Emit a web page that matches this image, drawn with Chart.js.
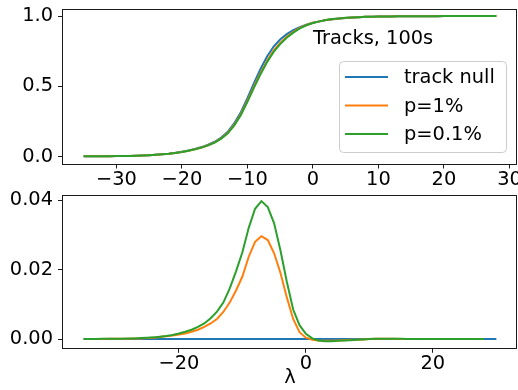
<!DOCTYPE html>
<html>
<head>
<meta charset="utf-8">
<script src="https://cdn.jsdelivr.net/npm/chart.js@4.4.1/dist/chart.umd.min.js"></script>
<style>
  html, body { margin: 0; padding: 0; background: #fff; }
  #wrap { position: relative; width: 518px; height: 390px; overflow: hidden; }
  .panel { position: absolute; left: 0; }
  #topPanel { top: 0; }
  #bottomPanel { top: 185px; }
</style>
</head>
<body>
<div id="wrap">
  <div class="panel" id="topPanel"><canvas id="cdfChart" width="518" height="200"></canvas></div>
  <div class="panel" id="bottomPanel"><canvas id="diffChart" width="518" height="205"></canvas></div>
</div>
<script>
// lambda grid shared by all curves
const lambdas = [
  -35, -34, -33, -32, -31, -30, -29, -28, -27, -26,
  -25, -24, -23, -22, -21, -20, -19, -18, -17, -16,
  -15, -14, -13, -12, -11, -10, -9, -8, -7, -6,
  -5, -4, -3, -2, -1, 0, 1, 2, 3, 4,
  5, 6, 7, 8, 9, 10, 11, 12, 13, 14,
  15, 16, 17, 18, 19, 20, 21, 22, 23, 24,
  25, 26, 27, 28
];

// cumulative efficiency, top panel
const cdfNull = [
  0.001, 0.001, 0.001, 0.002, 0.002, 0.003, 0.003, 0.004, 0.005, 0.007,
  0.009, 0.013, 0.016, 0.020, 0.026, 0.034, 0.043, 0.054, 0.067, 0.084,
  0.105, 0.135, 0.176, 0.237, 0.315, 0.415, 0.522, 0.623, 0.712, 0.783,
  0.833, 0.871, 0.899, 0.921, 0.938, 0.952, 0.962, 0.971, 0.977, 0.982,
  0.986, 0.990, 0.992, 0.994, 0.995, 0.996, 0.997, 0.997, 0.998, 0.998,
  0.998, 0.999, 0.999, 0.999, 0.999, 1.000, 1.000, 1.000, 1.000, 1.000,
  1.000, 1.000, 1.000, 1.000
];
const cdfP1 = [
  0.001, 0.001, 0.001, 0.002, 0.002, 0.003, 0.003, 0.004, 0.005, 0.007,
  0.009, 0.012, 0.015, 0.019, 0.025, 0.032, 0.041, 0.052, 0.064, 0.080,
  0.100, 0.129, 0.168, 0.226, 0.301, 0.397, 0.498, 0.595, 0.682, 0.755,
  0.808, 0.852, 0.887, 0.915, 0.936, 0.952, 0.962, 0.971, 0.977, 0.982,
  0.986, 0.990, 0.992, 0.994, 0.995, 0.996, 0.997, 0.997, 0.998, 0.998,
  0.998, 0.999, 0.999, 0.999, 0.999, 1.000, 1.000, 1.000, 1.000, 1.000,
  1.000, 1.000, 1.000, 1.000
];
const cdfP01 = [
  0.001, 0.001, 0.001, 0.002, 0.002, 0.003, 0.003, 0.004, 0.005, 0.007,
  0.009, 0.012, 0.015, 0.019, 0.025, 0.032, 0.041, 0.051, 0.063, 0.079,
  0.099, 0.127, 0.165, 0.222, 0.295, 0.390, 0.490, 0.585, 0.672, 0.745,
  0.800, 0.845, 0.882, 0.912, 0.934, 0.950, 0.962, 0.971, 0.978, 0.983,
  0.987, 0.990, 0.992, 0.994, 0.995, 0.996, 0.997, 0.997, 0.998, 0.998,
  0.998, 0.999, 0.999, 0.999, 0.999, 1.000, 1.000, 1.000, 1.000, 1.000,
  1.000, 1.000, 1.000, 1.000
];

// difference to the null curve, bottom panel
const diffNullLambdas = [-35, 30];
const diffNull = [0, 0];
const diffP1 = [
  0.0000, 0.0000, 0.0000, 0.0000, 0.0001, 0.0001, 0.0001, 0.0001, 0.0002, 0.0002,
  0.0003, 0.0004, 0.0006, 0.0008, 0.0010, 0.0013, 0.0016, 0.0021, 0.0027, 0.0035,
  0.0045, 0.0058, 0.0078, 0.0105, 0.0140, 0.0180, 0.0237, 0.0280, 0.0296, 0.0285,
  0.0247, 0.0190, 0.0120, 0.0058, 0.0020, 0.0004, -0.0002, -0.0004, -0.0005, -0.0005,
  -0.0004, -0.0003, -0.0002, -0.0002, -0.0001, 0.0000, 0.0001, 0.0001, 0.0001, 0.0001,
  0.0000, 0.0000, 0.0000, 0.0000, 0.0000, 0.0000, 0.0000, 0.0000, 0.0000, 0.0000,
  0.0000, 0.0000, 0.0000, 0.0000
];
const diffP01 = [
  0.0000, 0.0000, 0.0000, 0.0001, 0.0001, 0.0001, 0.0001, 0.0002, 0.0002, 0.0003,
  0.0004, 0.0005, 0.0007, 0.0009, 0.0012, 0.0016, 0.0021, 0.0027, 0.0035, 0.0045,
  0.0060, 0.0079, 0.0105, 0.0145, 0.0195, 0.0250, 0.0320, 0.0375, 0.0397, 0.0380,
  0.0333, 0.0255, 0.0165, 0.0085, 0.0040, 0.0015, 0.0002, -0.0004, -0.0006, -0.0006,
  -0.0005, -0.0004, -0.0003, -0.0002, -0.0001, 0.0000, 0.0001, 0.0001, 0.0001, 0.0001,
  0.0001, 0.0000, 0.0000, 0.0000, 0.0000, 0.0000, 0.0000, 0.0000, 0.0000, 0.0000,
  0.0000, 0.0000, 0.0000, 0.0000
];

const seriesLabels = ["track null", "p=1%", "p=0.1%"];
const seriesColors = ["#1f77b4", "#ff7f0e", "#2ca02c"];

const topXTicks = [-30, -20, -10, 0, 10, 20, 30];
const topYTicks = [0, 0.5, 1];
const bottomXTicks = [-20, 0, 20];
const bottomYTicks = [0, 0.02, 0.04];

const noteText = "Tracks, 100s";
const noteAt = [0, 0.8];

const FONT = { family: "'DejaVu Sans', sans-serif", size: 19.4 };
const INK = "#1a1a1a";

const pts = (xs, ys) => xs.map((x, i) => ({ x, y: ys[i] }));
const minus = v => (v < 0 ? "\u2212" : "") + Math.abs(v);

// pin axis thickness so both panels share the same plot box
function fixedBox(size) {
  return axis => {
    if (axis.isHorizontal()) axis.height = size; else axis.width = size;
    axis.paddingLeft = axis.paddingRight = axis.paddingTop = axis.paddingBottom = 0;
  };
}

function axis(min, max, ticks, fmt, size, pad, extra) {
  return Object.assign({
    type: "linear",
    min, max,
    afterBuildTicks: a => { a.ticks = ticks.map(value => ({ value })); },
    afterFit: fixedBox(size),
    grid: { drawOnChartArea: false, drawTicks: true, tickLength: 5, color: INK, lineWidth: 1 },
    border: { display: false },
    ticks: { font: FONT, color: "#000", padding: pad, maxRotation: 0, autoSkip: false, callback: fmt }
  }, extra || {});
}

function lines(sets) {
  return sets.map((s, i) => ({
    label: seriesLabels[i],
    data: s,
    borderColor: seriesColors[i],
    backgroundColor: seriesColors[i],
    borderWidth: 2,
    pointRadius: 0,
    tension: 0,
    fill: false,
    order: 3 - i
  }));
}

// full box around the plot area
const frame = {
  id: "frame",
  afterDraw(chart) {
    const { ctx, chartArea: a } = chart;
    ctx.save();
    ctx.strokeStyle = INK;
    ctx.lineWidth = 1;
    ctx.strokeRect(Math.round(a.left) - 0.5, Math.round(a.top) + 0.5,
      Math.round(a.right - a.left), Math.round(a.bottom - a.top));
    ctx.restore();
  }
};

const note = {
  id: "note",
  afterDatasetsDraw(chart) {
    const { ctx, scales } = chart;
    ctx.save();
    ctx.font = `${FONT.size}px ${FONT.family}`;
    ctx.fillStyle = "#000";
    ctx.textBaseline = "alphabetic";
    ctx.fillText(noteText, scales.x.getPixelForValue(noteAt[0]), scales.y.getPixelForValue(noteAt[1]));
    ctx.restore();
  }
};

const legendBox = {
  id: "legendBox",
  afterDatasetsDraw(chart) {
    const ctx = chart.ctx;
    ctx.save();
    ctx.beginPath();
    ctx.roundRect(339.5, 61.5, 167, 91, 4);
    ctx.fillStyle = "rgba(255,255,255,0.8)";
    ctx.fill();
    ctx.strokeStyle = "#cccccc";
    ctx.lineWidth = 1;
    ctx.stroke();
    ctx.font = `${FONT.size}px ${FONT.family}`;
    ctx.textBaseline = "middle";
    chart.data.datasets.forEach((ds, i) => {
      const y = 77 + i * 28.5;
      ctx.strokeStyle = ds.borderColor;
      ctx.lineWidth = 2;
      ctx.beginPath();
      ctx.moveTo(345, y);
      ctx.lineTo(388, y);
      ctx.stroke();
      ctx.fillStyle = "#000";
      ctx.fillText(ds.label, 404, y + 1);
    });
    ctx.restore();
  }
};

const base = {
  responsive: false,
  devicePixelRatio: 1,
  animation: false,
  plugins: { legend: { display: false }, tooltip: { enabled: false } }
};

new Chart(document.getElementById("cdfChart"), {
  type: "line",
  data: { datasets: lines([pts(lambdas, cdfNull), pts(lambdas, cdfP1), pts(lambdas, cdfP01)]) },
  options: Object.assign({}, base, {
    layout: { padding: { top: 9, right: 1, bottom: 0, left: 0 } },
    scales: {
      x: axis(-38.15, 31.15, topXTicks, minus, 36.5, 0),
      y: axis(-0.05, 1.05, topYTicks, v => v.toFixed(1), 63, 5)
    }
  }),
  plugins: [note, legendBox, frame]
});

new Chart(document.getElementById("diffChart"), {
  type: "line",
  data: { datasets: lines([pts(diffNullLambdas, diffNull), pts(lambdas, diffP1), pts(lambdas, diffP01)]) },
  options: Object.assign({}, base, {
    layout: { padding: { top: 9.5, right: 1, bottom: 0, left: 0 } },
    scales: {
      x: axis(-38.25, 33.25, bottomXTicks, minus, 42.2, 0,
        { title: { display: true, text: "λ", font: FONT, color: "#000", padding: { top: 0, bottom: 0 } } }),
      y: axis(-0.0025, 0.0416, bottomYTicks, v => v.toFixed(2), 63, 5)
    }
  }),
  plugins: [frame]
});
</script>
</body>
</html>
